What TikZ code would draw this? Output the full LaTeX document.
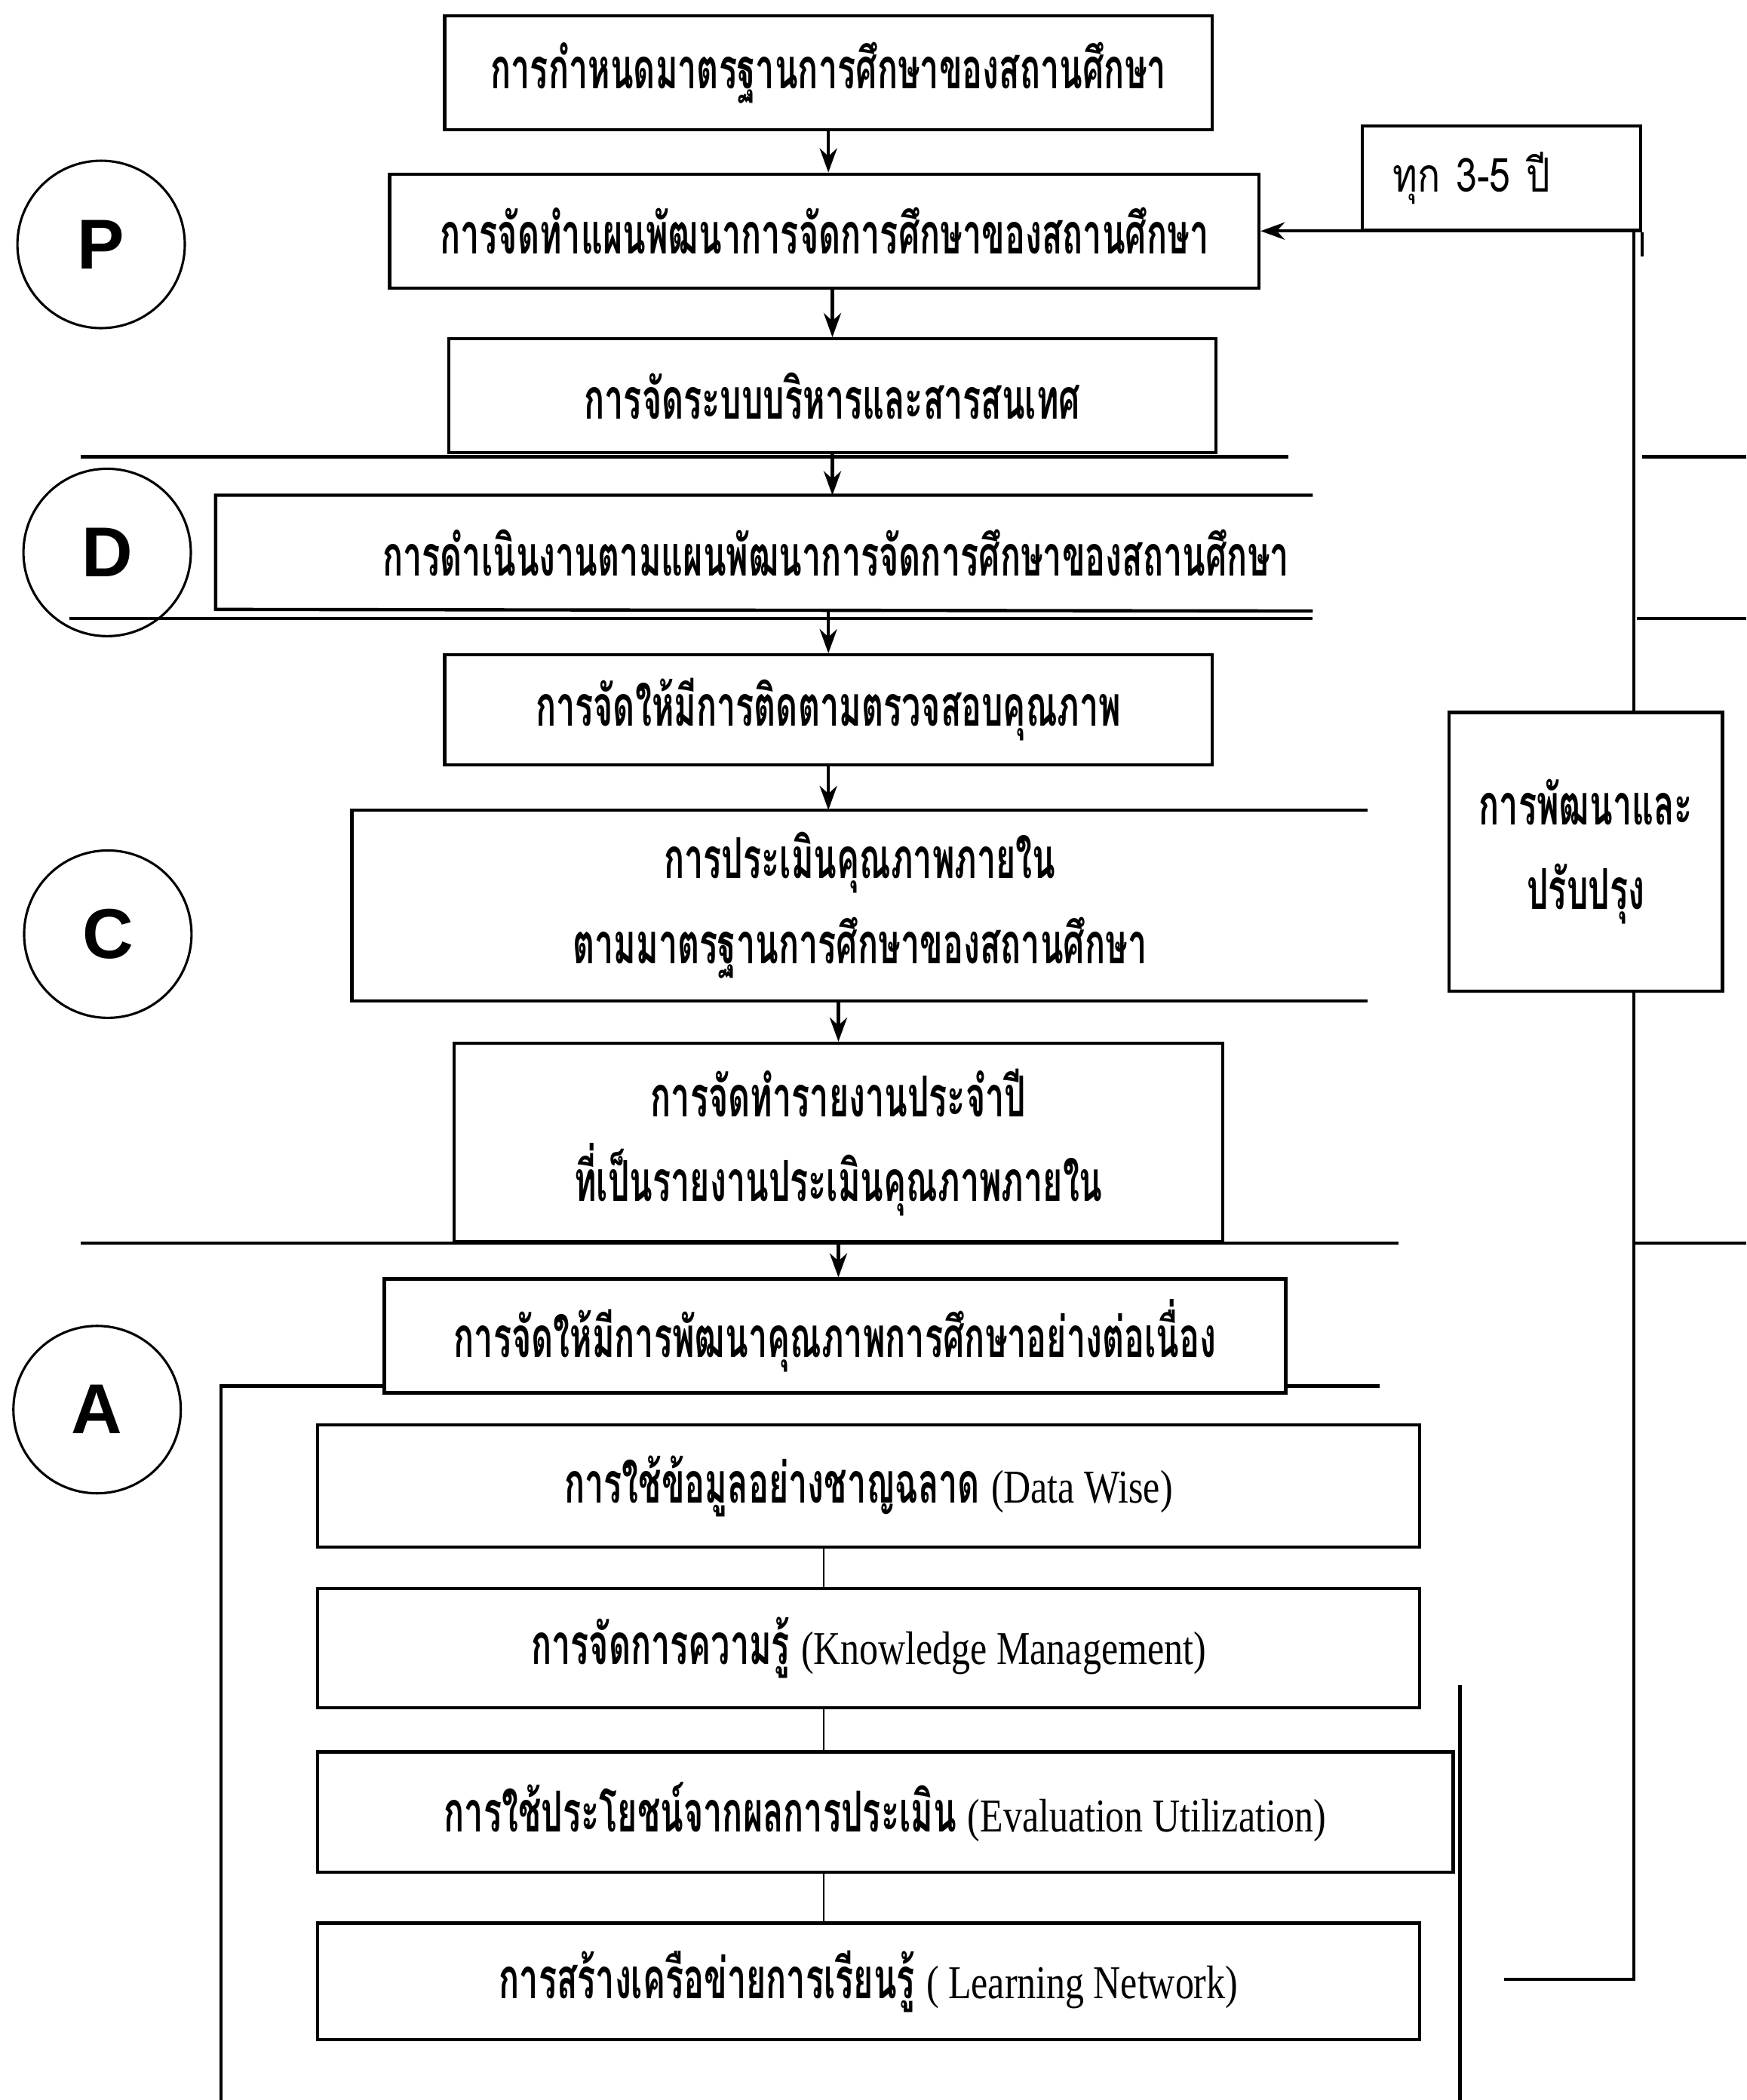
\documentclass[tikz,border=0pt]{standalone}
\usepackage{fontspec}
\setmainfont{Liberation Serif}
\newfontfamily\thaisans[Script=Thai,FakeStretch=0.8]{Loma}
\newfontfamily\thaic[Script=Thai,FakeStretch=0.6]{Loma}
\newfontfamily\latc[FakeStretch=0.8]{Liberation Serif}
\newfontfamily\arial{Liberation Sans}
\newcommand{\eng}[1]{{\latc\mdseries\fontsize{10}{12}\selectfont #1}}
\usetikzlibrary{arrows.meta}

\begin{document}
\begin{tikzpicture}[x=1cm, y=-1cm,
    box/.style={draw, fill=white, line width=0.7pt, inner sep=0pt, align=center,
      font=\thaic\bfseries\fontsize{12}{18}\selectfont},
    openbox/.style={box, draw=none, fill=none},
    phase/.style={circle, draw, line width=0.5pt, minimum size=1.25cm, inner sep=0pt,
      font=\arial\bfseries\fontsize{15}{15}\selectfont},
    frame/.style={line width=0.7pt},
    link/.style={line width=0.4pt},
    >={Stealth[length=1.8mm,width=1.3mm]}]
  \useasboundingbox (0,0) rectangle (13.04,15.68);

  % frame round the A steps
  \draw[frame] (1.65,15.68) -- (1.65,10.35) -- (10.30,10.35);
  \draw[frame] (10.90,12.58) -- (10.90,15.68);

  % phases
  \node[phase] (P) at (0.755,1.825) {P};
  \node[phase] (D) at (0.80,4.125) {D};
  \node[phase] (C) at (0.805,6.975) {C};
  \node[phase] (A) at (0.725,10.525) {A};

  % main steps
  \node[box, minimum width=5.73cm, minimum height=0.85cm] (std) at (6.185,0.545)
    {การกำหนดมาตรฐานการศึกษาของสถานศึกษา};
  \node[box, minimum width=6.49cm, minimum height=0.85cm] (plan) at (6.155,1.725)
    {การจัดทำแผนพัฒนาการจัดการศึกษาของสถานศึกษา};
  \node[box, minimum width=5.73cm, minimum height=0.85cm] (mis) at (6.215,2.955)
    {การจัดระบบบริหารและสารสนเทศ};
  \node[openbox, minimum width=7.1cm, minimum height=0.84cm] (run) at (6.24,4.13)
    {การดำเนินงานตามแผนพัฒนาการจัดการศึกษาของสถานศึกษา};
  \draw[frame] (run.north east) -| (1.61,4.55) -- (run.south east);
  \node[box, minimum width=5.73cm, minimum height=0.82cm] (mon) at (6.185,5.30)
    {การจัดให้มีการติดตามตรวจสอบคุณภาพ};
  \node[openbox, minimum width=7.56cm, minimum height=1.40cm] (eval) at (6.42,6.76)
    {การประเมินคุณภาพภายใน\\ตามมาตรฐานการศึกษาของสถานศึกษา};
  \draw[frame] (eval.north east) -- (eval.north west) -- (eval.south west) -- (eval.south east);
  \node[box, minimum width=5.74cm, minimum height=1.48cm] (rep) at (6.26,8.53)
    {การจัดทำรายงานประจำปี\\ที่เป็นรายงานประเมินคุณภาพภายใน};
  \node[box, minimum width=6.73cm, minimum height=0.85cm] (imp) at (6.235,9.975)
    {การจัดให้มีการพัฒนาคุณภาพการศึกษาอย่างต่อเนื่อง};

  % A steps
  \node[box, minimum width=8.23cm, minimum height=0.91cm] (dw) at (6.485,11.095)
    {การใช้ข้อมูลอย่างชาญฉลาด \eng{(Data Wise)}};
  \node[box, minimum width=8.23cm, minimum height=0.89cm] (km) at (6.485,12.305)
    {การจัดการความรู้ \eng{(Knowledge Management)}};
  \node[box, minimum width=8.48cm, minimum height=0.90cm] (eu) at (6.61,13.53)
    {การใช้ประโยชน์จากผลการประเมิน \eng{(Evaluation Utilization)}};
  \node[box, minimum width=8.23cm, minimum height=0.87cm] (ln) at (6.485,14.795)
    {การสร้างเครือข่ายการเรียนรู้ \eng{( Learning Network)}};

  % side boxes
  \node[box, font=\thaisans\fontsize{10}{14}\selectfont, inner xsep=0.23cm,
    text width=1.62cm, align=left, minimum height=0.78cm] (every) at (11.21,1.33) {ทุก 3-5 ปี};
  \node[box, minimum width=2.04cm, minimum height=2.08cm] (dev) at (11.84,6.36)
    {การพัฒนาและ\\ปรับปรุง};

  % bands
  \draw[frame] (0.60,3.41) -- (9.62,3.41);
  \draw[frame] (12.26,3.41) -- (13.04,3.41);
  \draw[frame] (0.52,4.62) -- (9.80,4.62);
  \draw[frame] (12.22,4.62) -- (13.04,4.62);
  \draw[frame] (0.60,9.28) -- (10.44,9.28);
  \draw[frame] (12.20,9.28) -- (13.04,9.28);

  % flow
  \draw[frame,->] (std.south) -- (std.south |- plan.north);
  \draw[frame,->] (mis.north |- plan.south) -- (mis.north);
  \draw[frame,->] (mis.south) -- (mis.south |- run.north);
  \draw[frame,->] (mon.north |- run.south) -- (mon.north);
  \draw[frame,->] (mon.south) -- (mon.south |- eval.north);
  \draw[frame,->] (rep.north |- eval.south) -- (rep.north);
  \draw[frame,->] (rep.south) -- (rep.south |- imp.north);

  \coordinate (axis) at (6.15,0);
  \draw[link] (dw.south -| axis) -- (km.north -| axis);
  \draw[link] (km.south -| axis) -- (eu.north -| axis);
  \draw[link] (eu.south -| axis) -- (ln.north -| axis);

  % loop back
  \coordinate (loop) at (12.20,0);
  \coordinate (lnend) at (11.23,14.78);
  \draw[frame] (lnend) -| (dev.south -| loop);
  \draw[frame,->] (dev.north -| loop) |- (plan.east);
  \draw[frame] (every.south east) -- ++(0,0.18);
\end{tikzpicture}
\end{document}
